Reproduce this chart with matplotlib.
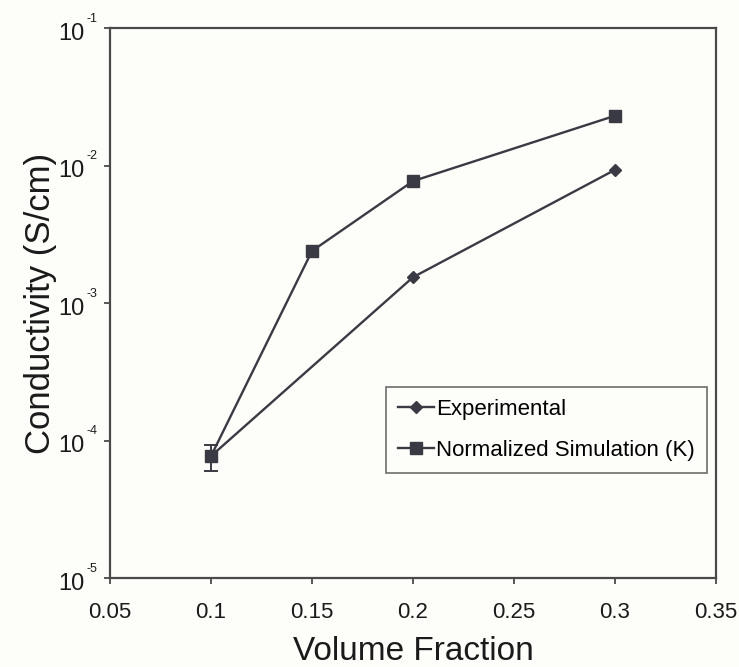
import numpy as np
import matplotlib
matplotlib.use("Agg")
import matplotlib.pyplot as plt
from matplotlib.ticker import FixedLocator, FuncFormatter, NullLocator, NullFormatter
from matplotlib.transforms import blended_transform_factory, offset_copy

plt.rcParams.update({
    "font.family": ["Liberation Sans", "DejaVu Sans"],
})

DARK = "#3a3a44"
AXC = "#4a4a4a"
TXT = "#1a1a1a"
BG = "#fdfdf9"

# data
exp_x = [0.1, 0.2, 0.3]
exp_y = [7.7e-5, 1.54e-3, 9.3e-3]
sim_x = [0.1, 0.15, 0.2, 0.3]
sim_y = [7.7e-5, 2.39e-3, 7.7e-3, 2.3e-2]
sim_err_lo = [1.7e-5, 0, 0, 0]
sim_err_hi = [1.6e-5, 0, 0, 0]

x_ticks = [0.05, 0.1, 0.15, 0.2, 0.25, 0.3, 0.35]
y_ticks = [1e-5, 1e-4, 1e-3, 1e-2, 1e-1]

W, H = 739, 667
fig = plt.figure(figsize=(W / 100, H / 100), dpi=100, facecolor=BG)
ax = fig.add_axes([110 / W, 1 - 578 / H, 606 / W, 550 / H])
ax.set_facecolor(BG)

ax.plot(exp_x, exp_y, color=DARK, lw=1.7, marker="D", ms=6, label="Experimental")
ax.plot(sim_x, sim_y, color=DARK, lw=1.7, marker="s", ms=8.5,
        label="Normalized Simulation (K)")
ax.errorbar(sim_x[:1], sim_y[:1], yerr=[sim_err_lo[:1], sim_err_hi[:1]], fmt="none",
            ecolor=DARK, elinewidth=1.4, capsize=5, capthick=1.4)

ax.set_yscale("log")
ax.set_xlim(0.05, 0.35)
ax.set_ylim(1e-5, 1e-1)
ax.xaxis.set_major_locator(FixedLocator(x_ticks))
ax.xaxis.set_major_formatter(FuncFormatter(lambda v, p: f"{v:g}"))
ax.yaxis.set_major_locator(FixedLocator(y_ticks))
ax.yaxis.set_minor_locator(NullLocator())
ax.yaxis.set_major_formatter(NullFormatter())

# y tick labels: "10" with a small raised exponent
trans = blended_transform_factory(ax.transAxes, ax.transData)
for v in y_ticks:
    base = offset_copy(trans, fig=fig, x=-18.5, y=-4, units="points")
    ax.text(0, v, "10", transform=base, ha="right", va="center",
            fontsize=17, color=TXT)
    sup = offset_copy(trans, fig=fig, x=-9, y=6.5, units="points")
    ax.text(0, v, "%d" % int(round(np.log10(v))), transform=sup, ha="right",
            va="center", fontsize=9, color=TXT)

for s in ax.spines.values():
    s.set_color(AXC)
    s.set_linewidth(1.6)
ax.tick_params(axis="both", direction="out", length=4.5, width=1.3, colors=AXC,
               labelcolor=TXT, labelsize=16)
ax.tick_params(axis="x", pad=13)

ax.set_xlabel("Volume Fraction", fontsize=24, labelpad=9, color=TXT)
ax.set_ylabel("Conductivity (S/cm)", fontsize=25, labelpad=30, color=TXT)

leg = ax.legend(loc="upper left", bbox_to_anchor=((386 - 110) / 606, (578 - 387) / 550),
                fontsize=16, frameon=True, fancybox=False, handlelength=1.6,
                handletextpad=0.12, borderpad=0.55, labelspacing=0.9,
                borderaxespad=0)
leg.get_frame().set_edgecolor(AXC)
leg.get_frame().set_linewidth(1.2)
leg.get_frame().set_facecolor(BG)

fig.savefig("out.png", dpi=100, facecolor=BG)
